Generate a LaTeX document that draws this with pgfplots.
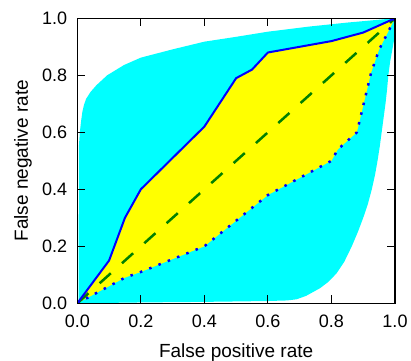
\documentclass[border=0pt]{standalone}
\usepackage{fontspec}
\setmainfont{Liberation Sans}
\usepackage{pgfplots}
\pgfplotsset{compat=1.18}
\definecolor{dgreen}{rgb}{0,0.5,0}
\definecolor{mcyan}{rgb}{0,1,1}
\definecolor{myellow}{rgb}{1,1,0}
\definecolor{mblue}{rgb}{0,0,1}
\begin{document}
\begin{tikzpicture}
\useasboundingbox (-77.3bp,-57.7bp) rectangle (333.7bp,303.3bp);
\begin{axis}[
 at={(0,0)}, anchor=south west,
 scale only axis, width=317.7bp, height=285bp,
 xmin=0, xmax=1, ymin=0, ymax=1,
 xtick={0,0.2,0.4,0.6,0.8,1}, ytick={0,0.2,0.4,0.6,0.8,1},
 tick align=inside, major tick length=8bp,
 tick style={black, line width=1bp},
 axis line style={line width=1.5bp},
 axis on top,
 /pgf/number format/fixed, /pgf/number format/fixed zerofill,
 /pgf/number format/precision=1, /pgf/number format/assume math mode=true,
 tick label style={font=\fontsize{18bp}{20bp}\selectfont, inner sep=0pt},
 xticklabel shift=11.5bp, yticklabel shift=10bp,
 label style={font=\fontsize{19bp}{22bp}\selectfont, inner sep=0pt},
 xlabel={False positive rate}, ylabel={False negative rate},
 xlabel style={at={(ticklabel cs:0.5,16bp)}},
 ylabel style={at={(ticklabel cs:0.5,10bp)}},
]
% cyan band
\addplot[fill=mcyan, draw=none] coordinates {
(0.004,0)(0.2,0.003)(0.4,0.005)(0.6,0.008)(0.66,0.01)(0.69,0.014)(0.72,0.026)
(0.764,0.053)(0.79,0.075)(0.816,0.105)(0.84,0.145)(0.864,0.2)(0.883,0.25)
(0.9,0.3)(0.915,0.35)(0.927,0.4)(0.937,0.45)(0.945,0.5)(0.952,0.55)(0.958,0.6)
(0.964,0.65)(0.97,0.7)(0.975,0.75)(0.979,0.8)(0.985,0.85)(0.99,0.88)(0.997,0.924)(1,1)
(0.85,0.985)(0.73,0.971)(0.6,0.953)(0.5,0.935)(0.4,0.918)(0.3,0.891)(0.2,0.862)
(0.147,0.836)(0.094,0.80)(0.06,0.765)(0.042,0.742)(0.028,0.718)(0.021,0.696)
(0.016,0.672)(0.012,0.64)(0.008,0.6)(0.005,0.55)(0.004,0)
} -- cycle;
% yellow band
\addplot[fill=myellow, draw=none] coordinates {
(0,0)(0.1,0.15)(0.15,0.3)(0.2,0.4)(0.4,0.62)(0.5,0.79)(0.55,0.82)(0.6,0.88)(0.8,0.92)(0.9,0.95)(1,1)
(0.95,0.89)(0.925,0.81)(0.88,0.6)(0.86,0.58)(0.82,0.54)(0.8,0.5)(0.6,0.38)(0.4,0.2)(0.2,0.11)(0.15,0.09)(0,0)
} -- cycle;
% diagonal
\addplot[dgreen, line width=2.5bp, dash pattern=on 15bp off 15bp] coordinates {(0,0)(1,1)};
% lower dotted
\addplot[mblue, line width=2.5bp, dash pattern=on 2.5bp off 7.5bp] coordinates {
(0,0)(0.15,0.09)(0.2,0.11)(0.4,0.2)(0.6,0.38)(0.8,0.5)(0.82,0.54)(0.86,0.58)(0.88,0.6)(0.925,0.81)(0.95,0.89)(1,1)};
% upper solid
\addplot[mblue, line width=2bp] coordinates {
(0,0)(0.1,0.15)(0.15,0.3)(0.2,0.4)(0.4,0.62)(0.5,0.79)(0.55,0.82)(0.6,0.88)(0.8,0.92)(0.9,0.95)(1,1)};
\end{axis}
\end{tikzpicture}
\end{document}
